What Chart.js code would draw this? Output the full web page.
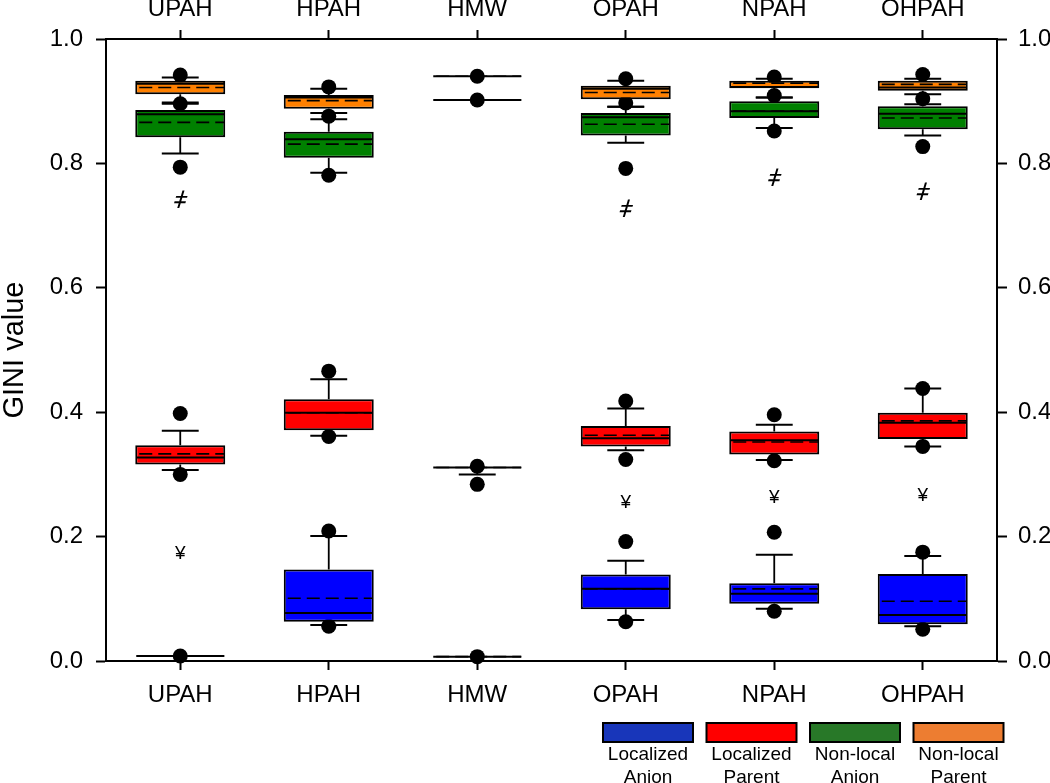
<!DOCTYPE html>
<html>
<head>
<meta charset="utf-8">
<script src="https://cdn.jsdelivr.net/npm/chart.js@4/dist/chart.umd.min.js"></script>
<style>
  body { margin: 0; background: #fff; }
  canvas { display: block; }
</style>
</head>
<body>
<canvas id="giniChart" width="1050" height="783"></canvas>
<script>
// --- Data ---
const categories = ['UPAH', 'HPAH', 'HMW', 'OPAH', 'NPAH', 'OHPAH'];
const yTickLabels = ['0.0', '0.2', '0.4', '0.6', '0.8', '1.0'];
const seriesNames = [['Localized', 'Anion'], ['Localized', 'Parent'], ['Non-local', 'Anion'], ['Non-local', 'Parent']];

// Localized Anion
const locAnionQ1 = [0.008, 0.063, 0.007, 0.083, 0.092, 0.059];
const locAnionQ3 = [0.008, 0.147, 0.007, 0.139, 0.125, 0.140];
const locAnionMedian = [0.008, 0.077, 0.007, 0.116, 0.108, 0.074];
const locAnionMean = [0.008, 0.101, 0.007, 0.116, 0.116, 0.096];
const locAnionWhiskerLow = [0.008, 0.058, 0.007, 0.066, 0.084, 0.056];
const locAnionWhiskerHigh = [0.008, 0.201, 0.007, 0.161, 0.171, 0.169];
const locAnionDotLow = [0.008, 0.056, 0.007, 0.063, 0.080, 0.051];
const locAnionDotHigh = [null, 0.209, null, 0.192, 0.207, 0.175];

// Localized Parent
const locParentQ1 = [0.316, 0.371, 0.311, 0.345, 0.332, 0.357];
const locParentQ3 = [0.347, 0.421, 0.311, 0.378, 0.369, 0.399];
const locParentMedian = [0.327, 0.399, 0.311, 0.358, 0.355, 0.383];
const locParentMean = [0.333, 0.399, 0.311, 0.363, 0.352, 0.386];
const locParentWhiskerLow = [0.307, 0.362, 0.300, 0.339, 0.323, 0.345];
const locParentWhiskerHigh = [0.370, 0.453, 0.311, 0.406, 0.380, 0.438];
const locParentDotLow = [0.300, 0.361, 0.284, 0.324, 0.322, 0.345];
const locParentDotHigh = [0.398, 0.466, 0.313, 0.418, 0.396, 0.438];

// Non-local Anion
const nlAnionQ1 = [0.842, 0.809, 0.902, 0.845, 0.873, 0.855];
const nlAnionQ3 = [0.886, 0.851, 0.902, 0.881, 0.900, 0.892];
const nlAnionMedian = [0.879, 0.839, 0.902, 0.874, 0.884, 0.880];
const nlAnionMean = [0.866, 0.831, 0.902, 0.863, 0.884, 0.873];
const nlAnionWhiskerLow = [0.816, 0.785, 0.902, 0.833, 0.857, 0.845];
const nlAnionWhiskerHigh = [0.896, 0.871, 0.902, 0.891, 0.906, 0.895];
const nlAnionDotLow = [0.794, 0.781, 0.902, 0.792, 0.852, 0.827];
const nlAnionDotHigh = [null, null, null, null, null, null];

// Non-local Parent
const nlParentQ1 = [0.911, 0.888, 0.940, 0.903, 0.921, 0.917];
const nlParentQ3 = [0.933, 0.910, 0.940, 0.925, 0.933, 0.933];
const nlParentMedian = [0.928, 0.906, 0.940, 0.920, 0.923, 0.922];
const nlParentMean = [0.922, 0.901, 0.940, 0.914, 0.929, 0.927];
const nlParentWhiskerLow = [0.898, 0.881, 0.940, 0.891, 0.906, 0.911];
const nlParentWhiskerHigh = [0.938, 0.920, 0.940, 0.933, 0.936, 0.936];
const nlParentDotLow = [0.896, 0.876, null, 0.897, 0.909, 0.904];
const nlParentDotHigh = [0.942, 0.923, 0.940, 0.936, 0.939, 0.943];

// significance marks
const nonLocalMark = [0.739, null, null, 0.724, 0.774, 0.752];
const localMark = [0.173, null, null, 0.255, 0.263, 0.265];

// --- Styling ---
const FONT = '"Liberation Sans", Arial, sans-serif';
const boxColors = ['#0000FF', '#FF0000', '#008000', '#FF8000'];
const legendColors = ['#1836BA', '#FF0000', '#287828', '#ED7D31'];

const boxes = [
  { q1: locAnionQ1, q3: locAnionQ3, med: locAnionMedian, mean: locAnionMean, wLo: locAnionWhiskerLow, wHi: locAnionWhiskerHigh, dLo: locAnionDotLow, dHi: locAnionDotHigh },
  { q1: locParentQ1, q3: locParentQ3, med: locParentMedian, mean: locParentMean, wLo: locParentWhiskerLow, wHi: locParentWhiskerHigh, dLo: locParentDotLow, dHi: locParentDotHigh },
  { q1: nlAnionQ1, q3: nlAnionQ3, med: nlAnionMedian, mean: nlAnionMean, wLo: nlAnionWhiskerLow, wHi: nlAnionWhiskerHigh, dLo: nlAnionDotLow, dHi: nlAnionDotHigh },
  { q1: nlParentQ1, q3: nlParentQ3, med: nlParentMedian, mean: nlParentMean, wLo: nlParentWhiskerLow, wHi: nlParentWhiskerHigh, dLo: nlParentDotLow, dHi: nlParentDotHigh }
];

const datasets = [];
boxes.forEach((b, s) => {
  datasets.push({
    type: 'bar',
    label: seriesNames[s].join(' '),
    data: b.q1.map((v, i) => [v, b.q3[i]]),
    backgroundColor: boxColors[s],
    borderColor: '#000',
    borderWidth: 2,
    borderSkipped: false,
    grouped: false,
    barPercentage: 0.606,
    categoryPercentage: 1,
    order: 0
  });
});
boxes.forEach((b, s) => {
  [b.dLo, b.dHi].forEach(arr => {
    datasets.push({
      type: 'line',
      data: arr,
      showLine: false,
      pointRadius: 7.5,
      pointBackgroundColor: '#000',
      pointBorderWidth: 0,
      clip: false,
      order: 1
    });
  });
});

// whiskers under the boxes, median/mean lines and marks on top
const whiskerPlugin = {
  id: 'whiskers',
  beforeDatasetsDraw(chart) {
    const ctx = chart.ctx;
    const y = chart.scales.y;
    ctx.save();
    ctx.strokeStyle = '#000';
    boxes.forEach((b, s) => {
      chart.getDatasetMeta(s).data.forEach((bar, i) => {
        const capHalf = bar.width * 0.205;
        const yq1 = y.getPixelForValue(b.q1[i]), yq3 = y.getPixelForValue(b.q3[i]);
        const ylo = y.getPixelForValue(b.wLo[i]), yhi = y.getPixelForValue(b.wHi[i]);
        ctx.lineWidth = 1.8;
        ctx.beginPath();
        ctx.moveTo(bar.x, yq1); ctx.lineTo(bar.x, ylo);
        ctx.moveTo(bar.x, yq3); ctx.lineTo(bar.x, yhi);
        ctx.stroke();
        ctx.lineWidth = 2;
        ctx.beginPath();
        if (b.wLo[i] < b.q1[i]) { ctx.moveTo(bar.x - capHalf, ylo); ctx.lineTo(bar.x + capHalf, ylo); }
        if (b.wHi[i] > b.q3[i]) { ctx.moveTo(bar.x - capHalf, yhi); ctx.lineTo(bar.x + capHalf, yhi); }
        ctx.stroke();
      });
    });
    ctx.restore();
  },
  afterDatasetsDraw(chart) {
    const ctx = chart.ctx;
    const y = chart.scales.y;
    ctx.save();
    ctx.strokeStyle = '#000';
    boxes.forEach((b, s) => {
      chart.getDatasetMeta(s).data.forEach((bar, i) => {
        const half = bar.width / 2 - 1;
        ctx.lineWidth = 2;
        ctx.setLineDash([]);
        const ym = y.getPixelForValue(b.med[i]);
        ctx.beginPath();
        ctx.moveTo(bar.x - half, ym); ctx.lineTo(bar.x + half, ym);
        ctx.stroke();
        ctx.lineWidth = 1.6;
        ctx.setLineDash([13, 6]);
        const ymean = y.getPixelForValue(b.mean[i]);
        ctx.beginPath();
        ctx.moveTo(bar.x - half + 3, ymean); ctx.lineTo(bar.x + half, ymean);
        ctx.stroke();
      });
    });
    ctx.setLineDash([]);

    // significance marks
    const x = chart.scales.x;
    ctx.fillStyle = '#000';
    ctx.textAlign = 'center';
    ctx.textBaseline = 'middle';
    nonLocalMark.forEach((v, i) => {
      if (v === null) return;
      ctx.save();
      ctx.translate(x.getPixelForValue(i), y.getPixelForValue(v));
      ctx.transform(1, 0, -0.3, 1, 0, 0);
      ctx.font = '24px ' + FONT;
      ctx.fillText('ǂ', 0, 0);
      ctx.restore();
    });
    localMark.forEach((v, i) => {
      if (v === null) return;
      ctx.font = '19px ' + FONT;
      ctx.fillText('¥', x.getPixelForValue(i), y.getPixelForValue(v));
    });
    ctx.restore();
  }
};

// legend boxes below the plot, two-line labels
const legendPlugin = {
  id: 'boxLegend',
  afterDraw(chart) {
    const ctx = chart.ctx;
    const area = chart.chartArea;
    const w = 90, h = 19, step = 103.5;
    const x0 = area.right - 394;
    const top = area.bottom + 62;
    ctx.save();
    seriesNames.forEach((lines, i) => {
      const lx = x0 + i * step;
      ctx.fillStyle = legendColors[i];
      ctx.fillRect(lx, top, w, h);
      ctx.strokeStyle = '#000';
      ctx.lineWidth = 2;
      ctx.strokeRect(lx, top, w, h);
      ctx.fillStyle = '#000';
      ctx.font = '19px ' + FONT;
      ctx.textAlign = 'center';
      ctx.textBaseline = 'alphabetic';
      lines.forEach((t, k) => ctx.fillText(t, lx + w / 2, top + 37 + k * 23));
    });
    ctx.restore();
  }
};

const tickFont = { size: 24, family: FONT };
const gridOpts = { display: true, drawOnChartArea: false, drawTicks: true, tickLength: 9, tickWidth: 2, tickColor: '#000', offset: false };
const borderOpts = { display: true, color: '#000', width: 2 };

new Chart(document.getElementById('giniChart'), {
  data: { labels: categories, datasets },
  options: {
    responsive: false,
    animation: false,
    layout: { padding: 0 },
    plugins: { legend: { display: false }, tooltip: { enabled: false } },
    scales: {
      x: {
        type: 'category', position: 'bottom', offset: true,
        grid: gridOpts, border: borderOpts,
        ticks: { color: '#000', font: tickFont, padding: 11, maxRotation: 0, autoSkip: false },
        afterFit(s) { s.height = 122; }
      },
      xTop: {
        type: 'category', axis: 'x', position: 'top', offset: true,
        grid: gridOpts, border: borderOpts,
        ticks: { color: '#000', font: tickFont, padding: 6, maxRotation: 0, autoSkip: false },
        afterFit(s) { s.height = 39; }
      },
      y: {
        position: 'left', min: 0, max: 1,
        grid: Object.assign({}, gridOpts, { tickLength: 10 }), border: borderOpts,
        ticks: { stepSize: 0.2, color: '#000', font: tickFont, padding: 13, callback: (v, i) => yTickLabels[i] },
        title: { display: true, text: 'GINI value', color: '#000', font: { size: 29, family: FONT, lineHeight: 1 }, padding: 0 },
        afterFit(s) { s.width = 106; }
      },
      yRight: {
        axis: 'y', position: 'right', min: 0, max: 1,
        grid: Object.assign({}, gridOpts, { tickLength: 10 }), border: borderOpts,
        ticks: { stepSize: 0.2, color: '#000', font: tickFont, padding: 11, callback: (v, i) => yTickLabels[i] },
        afterFit(s) { s.width = 53; }
      }
    }
  },
  plugins: [whiskerPlugin, legendPlugin]
});
</script>
</body>
</html>
